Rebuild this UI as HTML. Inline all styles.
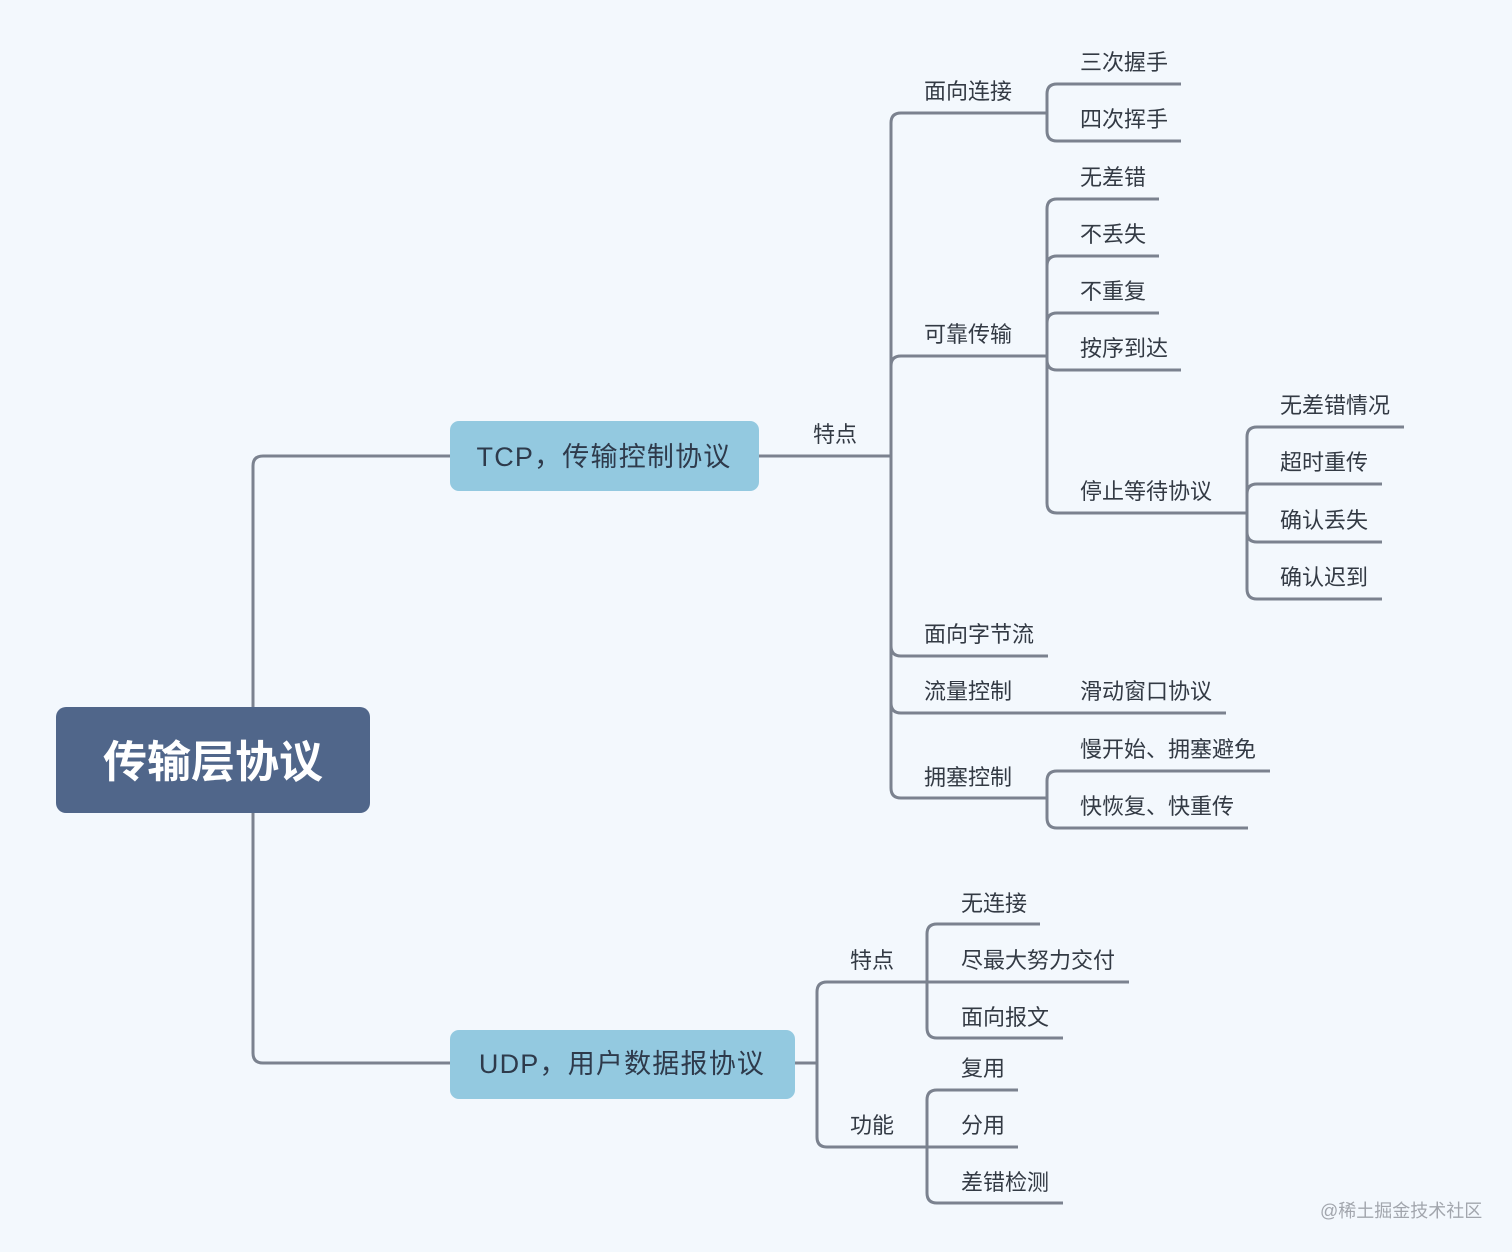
<!DOCTYPE html>
<html>
<head>
<meta charset="utf-8">
<style>
html,body{margin:0;padding:0;background:#f3f8fd;}
svg{display:block;}
text{font-family:"Liberation Sans","Noto Sans CJK SC",sans-serif;}
.l{font-size:22px;fill:#333a44;}
.n{font-size:27px;fill:#2e3a4b;letter-spacing:1.2px;}
</style>
</head>
<body>
<svg width="1512" height="1252" viewBox="0 0 1512 1252" xmlns="http://www.w3.org/2000/svg">
<rect x="0" y="0" width="1512" height="1252" fill="#f3f8fd"/>
<g fill="none" stroke="#7b828f" stroke-width="3">
  <!-- root connectors -->
  <path d="M253,710 V466 Q253,456 263,456 H452"/>
  <path d="M253,810 V1053 Q253,1063 263,1063 H452"/>
  <!-- TCP -> 特点 -->
  <path d="M757,456 H891"/>
  <path d="M891,456 V123 Q891,113 901,113 H1047"/>
  <path d="M891,456 V366 Q891,356 901,356 H1047"/>
  <path d="M891,456 V646 Q891,656 901,656 H1048"/>
  <path d="M891,456 V703 Q891,713 901,713 H1226"/>
  <path d="M891,456 V788 Q891,798 901,798 H1047"/>
  <!-- 面向连接 -->
  <path d="M1047,113 V94 Q1047,84 1057,84 H1181"/>
  <path d="M1047,113 V131 Q1047,141 1057,141 H1181"/>
  <!-- 可靠传输 -->
  <path d="M1047,356 V209 Q1047,199 1057,199 H1159"/>
  <path d="M1047,356 V266 Q1047,256 1057,256 H1159"/>
  <path d="M1047,356 V323 Q1047,313 1057,313 H1159"/>
  <path d="M1047,356 V360 Q1047,370 1057,370 H1181"/>
  <path d="M1047,356 V503 Q1047,513 1057,513 H1247"/>
  <!-- 停止等待协议 -->
  <path d="M1247,513 V437 Q1247,427 1257,427 H1404"/>
  <path d="M1247,513 V494 Q1247,484 1257,484 H1382"/>
  <path d="M1247,513 V532 Q1247,542 1257,542 H1382"/>
  <path d="M1247,513 V589 Q1247,599 1257,599 H1382"/>
  <!-- 拥塞控制 -->
  <path d="M1047,798 V781 Q1047,771 1057,771 H1270"/>
  <path d="M1047,798 V818 Q1047,828 1057,828 H1248"/>
  <!-- UDP -->
  <path d="M793,1063 H817"/>
  <path d="M817,1063 V992 Q817,982 827,982 H927"/>
  <path d="M817,1063 V1137 Q817,1147 827,1147 H927"/>
  <path d="M927,982 V934 Q927,924 937,924 H1040"/>
  <path d="M927,982 H1129"/>
  <path d="M927,982 V1028 Q927,1038 937,1038 H1063"/>
  <path d="M927,1147 V1100 Q927,1090 937,1090 H1018"/>
  <path d="M927,1147 H1018"/>
  <path d="M927,1147 V1193 Q927,1203 937,1203 H1063"/>
</g>

<!-- nodes -->
<rect x="56" y="707" width="314" height="106" rx="10" fill="#50668a"/>
<text x="213" y="777" text-anchor="middle" style="font-size:44px;font-weight:bold;fill:#ffffff;">传输层协议</text>

<rect x="450" y="421" width="309" height="70" rx="9" fill="#93c9e0"/>
<text class="n" x="604" y="466" text-anchor="middle">TCP，传输控制协议</text>

<rect x="450" y="1030" width="345" height="69" rx="9" fill="#93c9e0"/>
<text class="n" x="622" y="1073" text-anchor="middle">UDP，用户数据报协议</text>

<!-- TCP labels -->
<text class="l" x="813" y="442">特点</text>
<text class="l" x="924" y="99">面向连接</text>
<text class="l" x="924" y="342">可靠传输</text>
<text class="l" x="924" y="642">面向字节流</text>
<text class="l" x="924" y="699">流量控制</text>
<text class="l" x="924" y="785">拥塞控制</text>

<text class="l" x="1080" y="70">三次握手</text>
<text class="l" x="1080" y="127">四次挥手</text>
<text class="l" x="1080" y="185">无差错</text>
<text class="l" x="1080" y="242">不丢失</text>
<text class="l" x="1080" y="299">不重复</text>
<text class="l" x="1080" y="356">按序到达</text>
<text class="l" x="1080" y="499">停止等待协议</text>
<text class="l" x="1080" y="699">滑动窗口协议</text>
<text class="l" x="1080" y="757">慢开始、拥塞避免</text>
<text class="l" x="1080" y="814">快恢复、快重传</text>

<text class="l" x="1280" y="413">无差错情况</text>
<text class="l" x="1280" y="470">超时重传</text>
<text class="l" x="1280" y="528">确认丢失</text>
<text class="l" x="1280" y="585">确认迟到</text>

<!-- UDP labels -->
<text class="l" x="850" y="968">特点</text>
<text class="l" x="850" y="1133">功能</text>
<text class="l" x="961" y="911">无连接</text>
<text class="l" x="961" y="968">尽最大努力交付</text>
<text class="l" x="961" y="1025">面向报文</text>
<text class="l" x="961" y="1076">复用</text>
<text class="l" x="961" y="1133">分用</text>
<text class="l" x="961" y="1190">差错检测</text>

<!-- watermark -->
<text x="1320" y="1217" style="font-size:18px;fill:#a2a6ad;">@稀土掘金技术社区</text>
</svg>
</body>
</html>
